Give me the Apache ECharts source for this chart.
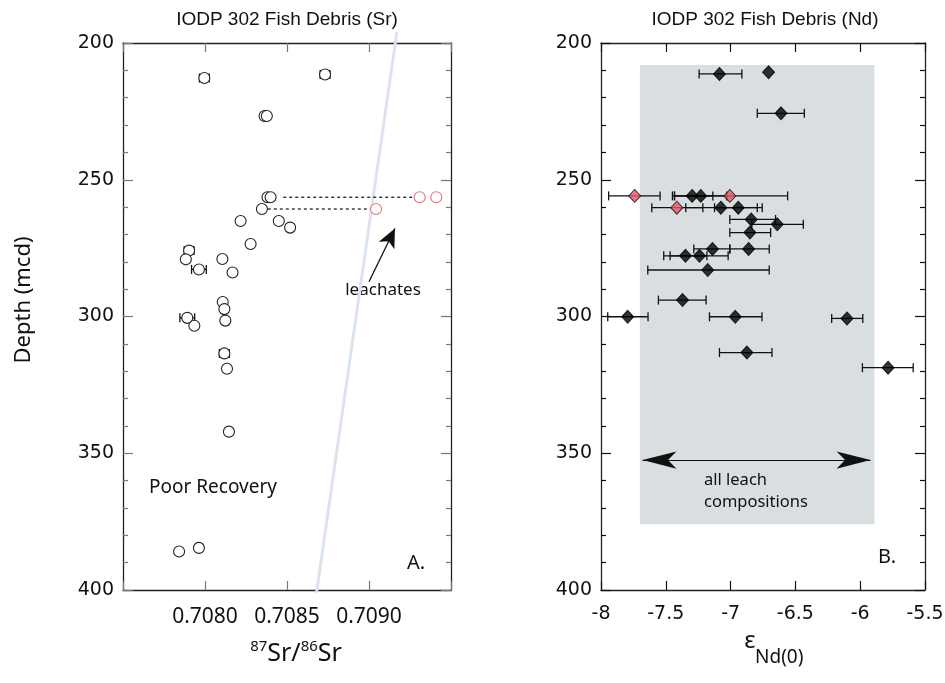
<!DOCTYPE html>
<html><head><meta charset="utf-8">
<script src="https://cdn.jsdelivr.net/npm/echarts@6/dist/echarts.min.js"></script>
<style>html,body{margin:0;padding:0;background:#fff}#c{width:945px;height:683px}</style>
</head><body><div id="c"></div>
<script>
// ---------- tick labels ----------
const depthTicks = [200, 250, 300, 350, 400];
const srTicks = ['0.7080', '0.7085', '0.7090'];
const ndTicks = ['-8', '-7.5', '-7', '-6.5', '-6', '-5.5'];

// ---------- panel A: fish debris 87Sr/86Sr ----------
const srValue = [0.707996, 0.708732, 0.708363, 0.708377, 0.708381, 0.708400, 0.708347, 0.708217, 0.708450, 0.708519,
                 0.708278, 0.707903, 0.707883, 0.708106, 0.707963, 0.708168, 0.708108, 0.708118, 0.707892, 0.707935,
                 0.708124, 0.708118, 0.708134, 0.708146, 0.707842, 0.707963];
const srDepth = [212.8, 211.5, 226.7, 226.7, 256.4, 256.4, 260.7, 265.1, 265.1, 267.5,
                 273.5, 275.9, 279.1, 279.0, 282.8, 283.9, 294.7, 297.3, 300.5, 303.4,
                 301.5, 313.5, 319.1, 342.1, 385.9, 384.6];
const srErr = [0.00003, 0.00003, 0, 0, 0, 0, 0, 0, 0, 0,
               0, 0.00003, 0, 0, 0.000045, 0, 0, 0, 0.000045, 0,
               0, 0.00003, 0, 0, 0, 0];
// leachates
const leachSrValue = [0.709309, 0.709410, 0.709043];
const leachSrDepth = [256.4, 256.4, 260.7];
// dotted tie lines (fish debris -> leachate)
const tieFrom = [0.708477, 0.708383];
const tieTo = [0.709272, 0.709008];
const tieDepth = [256.4, 260.7];
// seawater reference line
const swSr = [0.70917, 0.70868];
const swDepth = [196, 401];
// "leachates" arrow (tail, head)
const arrowSr = [0.70900, 0.709158];
const arrowDepth = [287.3, 267.8];

// ---------- panel B: fish debris eNd ----------
const ndEps   = [-7.086, -6.707, -6.611, -7.297, -7.230, -7.075, -6.941, -6.841, -6.640, -6.851,
                 -7.140, -6.861, -7.348, -7.240, -7.176, -7.371, -7.794, -6.964, -6.102, -6.874, -5.785];
const ndDepth = [211.3, 210.7, 225.7, 255.9, 255.9, 260.2, 260.2, 264.5, 266.3, 269.3,
                 275.3, 275.3, 277.8, 277.8, 283.0, 294.0, 300.1, 300.1, 300.7, 313.2, 318.7];
const ndLo    = [-7.243, null, -6.794, -7.449, -7.433, -7.346, -7.124, -7.006, -6.836, -7.006,
                 -7.284, -7.006, -7.516, -7.467, -7.639, -7.557, -7.948, -7.163, -6.220, -7.086, -5.983];
const ndHi    = [-6.913, null, -6.431, -7.137, -7.029, -6.794, -6.756, -6.653, -6.439, -6.691,
                 -7.006, -6.702, -7.183, -7.019, -6.702, -7.189, -7.637, -6.758, -5.980, -6.681, -5.591];
// leachate-affected (red)
const redEps   = [-7.740, -7.006, -7.415];
const redDepth = [255.9, 255.9, 260.2];
const redLo    = [-7.941, -7.433, -7.608];
const redHi    = [-7.544, -6.560, -7.214];
// range of all leach compositions
const leachBoxEps = [-7.70, -5.89];
const leachBoxDepth = [208, 376];
const leachArrowEps = [-7.68, -5.92];
const leachArrowDepth = 352.5;

// ---------- build ----------
const chart = echarts.init(document.getElementById('c'), null, {renderer: 'canvas'});

function errRender(params, api) {
  const y = api.value(1), lo = api.value(2), hi = api.value(3);
  const a = api.coord([lo, y]), b = api.coord([hi, y]);
  const h = 4.5;
  const style = {stroke: '#111', lineWidth: 1.3};
  return {type: 'group', children: [
    {type: 'line', shape: {x1: a[0], y1: a[1], x2: b[0], y2: b[1]}, style},
    {type: 'line', shape: {x1: a[0], y1: a[1] - h, x2: a[0], y2: a[1] + h}, style},
    {type: 'line', shape: {x1: b[0], y1: b[1] - h, x2: b[0], y2: b[1] + h}, style}
  ]};
}

const srErrData = srValue.map((v, i) => [v, srDepth[i], v - srErr[i], v + srErr[i]]).filter(d => d[3] > d[2]);
const ndErrData = ndEps.map((v, i) => [v, ndDepth[i], ndLo[i], ndHi[i]]).filter(d => d[2] !== null)
  .concat(redEps.map((v, i) => [v, redDepth[i], redLo[i], redHi[i]]));

const depthFmt = v => depthTicks.indexOf(Math.round(v)) >= 0 ? String(Math.round(v)) : '';
const srFmt = v => { const s = v.toFixed(4); return srTicks.indexOf(s) >= 0 ? s : ''; };
const ndFmt = v => { const s = String(Math.round(v * 10) / 10); return ndTicks.indexOf(s) >= 0 ? s : ''; };

function yAx(grid, pos, labels, tickColor) {
  return {
    type: 'value', gridIndex: grid, position: pos, inverse: true, min: 200, max: 400, interval: 50,
    axisLine: {show: true, onZero: false, lineStyle: {color: '#222', width: 1.3}},
    axisTick: {show: true, inside: true, length: 10, lineStyle: {color: tickColor, width: 1.2}},
    minorTick: {show: true, splitNumber: 5, length: 5, lineStyle: {color: tickColor, width: 1.2}},
    axisLabel: {show: labels, formatter: depthFmt, fontFamily: 'DejaVu Sans', fontSize: 19, color: '#111', margin: 9},
    splitLine: {show: false}, minorSplitLine: {show: false}
  };
}
function xAx(grid, pos, labels, min, max, interval, fmt, font, size, margin, tickColor) {
  return {
    type: 'value', gridIndex: grid, position: pos, min, max, interval,
    axisLine: {show: true, onZero: false, lineStyle: {color: '#222', width: 1.3}},
    axisTick: {show: true, inside: true, length: 9, lineStyle: {color: tickColor, width: 1.2}},
    axisLabel: {show: labels, formatter: fmt, fontFamily: font, fontSize: size, color: '#111', margin,
                showMinLabel: true, showMaxLabel: true, hideOverlap: false},
    splitLine: {show: false}
  };
}

const option = {
  animation: false,
  backgroundColor: '#fff',
  grid: [
    {left: 123, right: 494, top: 43, bottom: 93, outerBoundsMode: 'none', containLabel: false},
    {left: 601, right: 20, top: 43, bottom: 93, outerBoundsMode: 'none', containLabel: false}
  ],
  xAxis: [
    xAx(0, 'bottom', true, 0.7075, 0.7095, 0.0005, srFmt, 'Noto Sans', 21, 17, '#777'),
    xAx(0, 'top', false, 0.7075, 0.7095, 0.0005, srFmt, 'Noto Sans', 21, 17, '#777'),
    xAx(1, 'bottom', true, -8, -5.5, 0.5, ndFmt, 'DejaVu Sans', 19, 15, '#111'),
    xAx(1, 'top', false, -8, -5.5, 0.5, ndFmt, 'DejaVu Sans', 19, 15, '#111')
  ],
  yAxis: [
    yAx(0, 'left', true, '#777'),
    yAx(0, 'right', false, '#777'),
    yAx(1, 'left', true, '#111'),
    yAx(1, 'right', false, '#111')
  ],
  series: [
    // ----- panel A -----
    {type: 'line', xAxisIndex: 0, yAxisIndex: 0, clip: false, silent: true, symbol: 'none', z: 1,
     data: swSr.map((v, i) => [v, swDepth[i]]), lineStyle: {color: '#dbe3f1', width: 3}},
    ...tieFrom.map((v, i) => ({type: 'line', xAxisIndex: 0, yAxisIndex: 0, silent: true, symbol: 'none', z: 2,
     data: [[v, tieDepth[i]], [tieTo[i], tieDepth[i]]], lineStyle: {color: '#111', width: 1.2, type: [3, 3]}})),
    {type: 'custom', xAxisIndex: 0, yAxisIndex: 0, renderItem: errRender, data: srErrData, encode: {x: [0, 2, 3], y: 1}, z: 3, silent: true},
    {type: 'scatter', xAxisIndex: 0, yAxisIndex: 0, symbol: 'circle', symbolSize: 11, z: 4, silent: true,
     data: srValue.map((v, i) => [v, srDepth[i]]), itemStyle: {color: '#fff', borderColor: '#222', borderWidth: 1.1, opacity: 1}},
    {type: 'scatter', xAxisIndex: 0, yAxisIndex: 0, symbol: 'circle', symbolSize: 11, z: 4, silent: true,
     data: leachSrValue.map((v, i) => [v, leachSrDepth[i]]), itemStyle: {color: '#fff', borderColor: '#f0707f', borderWidth: 1.1, opacity: 1},
     markLine: {silent: true, animation: false, symbol: ['none', 'arrow'], symbolSize: [13, 19], label: {show: false},
       lineStyle: {color: '#111', width: 1.3, type: 'solid'},
       data: [[{coord: [arrowSr[0], arrowDepth[0]]}, {coord: [arrowSr[1], arrowDepth[1]]}]]}},
    // ----- panel B -----
    {type: 'custom', xAxisIndex: 2, yAxisIndex: 2, silent: true, z: 1,
     data: [[leachBoxEps[0], leachBoxDepth[0], leachBoxEps[1], leachBoxDepth[1]]], encode: {x: [0, 2], y: [1, 3]},
     renderItem: (params, api) => {
       const p1 = api.coord([api.value(0), api.value(1)]), p2 = api.coord([api.value(2), api.value(3)]);
       return {type: 'rect', shape: {x: p1[0], y: p1[1], width: p2[0] - p1[0], height: p2[1] - p1[1]}, style: {fill: '#d9dfe1'}};
     },
     markLine: {silent: true, animation: false, symbol: ['arrow', 'arrow'], symbolSize: [13, 34], label: {show: false},
       lineStyle: {color: '#111', width: 1.2, type: 'solid'},
       data: [[{coord: [leachArrowEps[0], leachArrowDepth]}, {coord: [leachArrowEps[1], leachArrowDepth]}]]}},
    {type: 'custom', xAxisIndex: 2, yAxisIndex: 2, renderItem: errRender, data: ndErrData, encode: {x: [0, 2, 3], y: 1}, z: 3, silent: true},
    {type: 'scatter', xAxisIndex: 2, yAxisIndex: 2, symbol: 'diamond', symbolSize: [12, 13], z: 4, silent: true,
     data: ndEps.map((v, i) => [v, ndDepth[i]]), itemStyle: {color: '#000', borderColor: '#000', borderWidth: 1}},
    {type: 'scatter', xAxisIndex: 2, yAxisIndex: 2, symbol: 'diamond', symbolSize: [12, 13], z: 4, silent: true,
     data: redEps.map((v, i) => [v, redDepth[i]]), itemStyle: {color: '#e65468', borderColor: '#111', borderWidth: 1}}
  ],
  graphic: [
    {type: 'text', x: 287, y: 20, style: {text: 'IODP 302 Fish Debris (Sr)', font: '19px "Liberation Sans"', fill: '#111', textAlign: 'center', textVerticalAlign: 'middle'}},
    {type: 'text', x: 765, y: 20, style: {text: 'IODP 302 Fish Debris (Nd)', font: '19px "Liberation Sans"', fill: '#111', textAlign: 'center', textVerticalAlign: 'middle'}},
    {type: 'text', x: 24, y: 300, rotation: Math.PI / 2, style: {text: 'Depth (mcd)', font: '22px "Noto Sans"', fill: '#111', textAlign: 'center', textVerticalAlign: 'middle'}},
    {type: 'text', x: 296, y: 654, style: {
      text: '{sup|87}{m|Sr/}{sup|86}{m|Sr}', textAlign: 'center', textVerticalAlign: 'middle',
      rich: {sup: {fontFamily: 'Noto Sans', fontSize: 15, fill: '#111', verticalAlign: 'top', lineHeight: 16},
             m: {fontFamily: 'Noto Sans', fontSize: 25, fill: '#111', lineHeight: 30}}}},
    {type: 'text', x: 750, y: 641, style: {text: 'ε', font: '24px "Noto Sans"', fill: '#111', textAlign: 'center', textVerticalAlign: 'middle'}},
    {type: 'text', x: 755, y: 658, style: {text: 'Nd(0)', font: '19px "Noto Sans"', fill: '#111', textAlign: 'left', textVerticalAlign: 'middle'}},
    {type: 'text', x: 149, y: 488, style: {text: 'Poor Recovery', font: '19px "Noto Sans"', fill: '#111', textAlign: 'left', textVerticalAlign: 'middle'}},
    {type: 'text', x: 383, y: 290, style: {text: 'leachates', font: '17px "Noto Sans"', fill: '#111', textAlign: 'center', textVerticalAlign: 'middle'}},
    {type: 'text', x: 407, y: 563, style: {text: 'A.', font: '20px "Noto Sans"', fill: '#111', textAlign: 'left', textVerticalAlign: 'middle'}},
    {type: 'text', x: 878, y: 557, style: {text: 'B.', font: '20px "Noto Sans"', fill: '#111', textAlign: 'left', textVerticalAlign: 'middle'}},
    {type: 'text', x: 704, y: 480, style: {text: 'all leach', font: '16.5px "Noto Sans"', fill: '#111', textAlign: 'left', textVerticalAlign: 'middle'}, z: 100},
    {type: 'text', x: 704, y: 502, style: {text: 'compositions', font: '16.5px "Noto Sans"', fill: '#111', textAlign: 'left', textVerticalAlign: 'middle'}, z: 100}
  ]
};
chart.setOption(option);
</script>
</body></html>
